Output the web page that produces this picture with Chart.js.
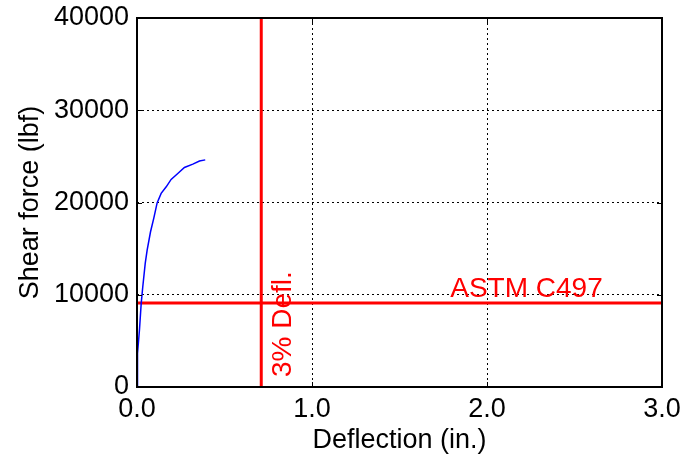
<!DOCTYPE html>
<html>
<head>
<meta charset="utf-8">
<script src="https://cdn.jsdelivr.net/npm/chart.js@4.4.1/dist/chart.umd.min.js"></script>
<style>
  html, body { margin: 0; padding: 0; background: #fff; }
  #wrap { width: 681px; height: 466px; position: relative; }
</style>
</head>
<body>
<div id="wrap"><canvas id="c" width="681" height="466"></canvas></div>
<script>
// Load–deflection curve of the specimen (deflection in inches, force in lbf)
const deflection = [0.0, 0.001, 0.005, 0.014, 0.024, 0.033, 0.047, 0.058, 0.077, 0.096, 0.115, 0.138, 0.167, 0.195, 0.233, 0.271, 0.319, 0.357, 0.390];
const shearForce = [0, 400, 3650, 6180, 9070, 10870, 13400, 14840, 16800, 18300, 19950, 20990, 21700, 22500, 23150, 23800, 24160, 24490, 24620];

// Reference limits
const defl3pct = 0.71;      // 3% deflection limit (in.)
const astmC497 = 9100;      // ASTM C497 required load (lbf)

const xTicks = [0, 1, 2, 3];
const yTicks = [0, 10000, 20000, 30000, 40000];

const FONT = "'Liberation Sans', Arial, sans-serif";

const curve = deflection.map((x, i) => ({ x, y: shearForce[i] }));

// Solid frame with inward tick marks, plus the two limit labels
const framePlugin = {
  id: 'frame',
  afterDatasetsDraw(chart) {
    const { ctx, chartArea: a, scales } = chart;
    ctx.save();
    ctx.fillStyle = '#ff0000';
    ctx.font = '28px ' + FONT;
    // label along the 3% deflection line
    ctx.save();
    ctx.translate(scales.x.getPixelForValue(defl3pct) + 8, a.bottom - 10);
    ctx.rotate(-Math.PI / 2);
    ctx.textAlign = 'left';
    ctx.textBaseline = 'top';
    ctx.fillText('3% Defl.', 0, 0);
    ctx.restore();
    // label above the ASTM line
    ctx.textAlign = 'left';
    ctx.textBaseline = 'alphabetic';
    ctx.fillText('ASTM C497', scales.x.getPixelForValue(1.79), scales.y.getPixelForValue(astmC497) - 6);
    // tick marks
    ctx.strokeStyle = '#000';
    ctx.lineWidth = 1;
    ctx.beginPath();
    xTicks.forEach(v => {
      const px = Math.round(scales.x.getPixelForValue(v)) + 0.5;
      ctx.moveTo(px, a.bottom); ctx.lineTo(px, a.bottom - 5);
      ctx.moveTo(px, a.top); ctx.lineTo(px, a.top + 5);
    });
    yTicks.forEach(v => {
      const py = Math.round(scales.y.getPixelForValue(v)) + 0.5;
      ctx.moveTo(a.left, py); ctx.lineTo(a.left + 5, py);
      ctx.moveTo(a.right, py); ctx.lineTo(a.right - 5, py);
    });
    ctx.stroke();
    // frame
    ctx.lineWidth = 2;
    ctx.strokeRect(a.left, a.top, a.right - a.left, a.bottom - a.top);
    ctx.restore();
  }
};

new Chart(document.getElementById('c'), {
  type: 'scatter',
  data: {
    datasets: [
      {
        data: curve,
        showLine: true,
        borderColor: '#0000ff',
        borderWidth: 1.5,
        pointRadius: 0,
        tension: 0
      },
      {
        data: [{ x: defl3pct, y: 0 }, { x: defl3pct, y: 40000 }],
        showLine: true,
        borderColor: '#ff0000',
        borderWidth: 3,
        pointRadius: 0
      },
      {
        data: [{ x: 0, y: astmC497 }, { x: 3, y: astmC497 }],
        showLine: true,
        borderColor: '#ff0000',
        borderWidth: 3,
        pointRadius: 0
      }
    ]
  },
  options: {
    responsive: false,
    animation: false,
    devicePixelRatio: 1,
    layout: { padding: { top: 18, right: 19, left: 0, bottom: 0 } },
    plugins: { legend: { display: false }, tooltip: { enabled: false } },
    scales: {
      x: {
        type: 'linear',
        min: 0, max: 3,
        afterBuildTicks: s => { s.ticks = xTicks.map(v => ({ value: v })); },
        afterFit: s => { s.height = 79; s.paddingLeft = 0; s.paddingRight = 0; },
        ticks: {
          color: '#000',
          font: { family: FONT, size: 27 },
          padding: 6,
          maxRotation: 0,
          callback: v => v.toFixed(1)
        },
        grid: { color: '#000', lineWidth: 1, drawTicks: false },
        border: { display: false, dash: [2, 3] },
        title: {
          display: true,
          text: 'Deflection (in.)',
          color: '#000',
          font: { family: FONT, size: 27 },
          padding: { top: 9, bottom: 9 }
        }
      },
      y: {
        type: 'linear',
        min: 0, max: 40000,
        afterBuildTicks: s => { s.ticks = yTicks.map(v => ({ value: v })); },
        afterFit: s => { s.width = 137; s.paddingTop = 0; s.paddingBottom = 0; },
        ticks: {
          color: '#000',
          font: { family: FONT, size: 27 },
          padding: 8,
          callback: v => String(v)
        },
        grid: { color: '#000', lineWidth: 1, drawTicks: false },
        border: { display: false, dash: [2, 3] },
        title: {
          display: true,
          text: 'Shear force (lbf)',
          color: '#000',
          font: { family: FONT, size: 27 },
          padding: { top: 14, bottom: 14 }
        }
      }
    }
  },
  plugins: [framePlugin]
});
</script>
</body>
</html>
